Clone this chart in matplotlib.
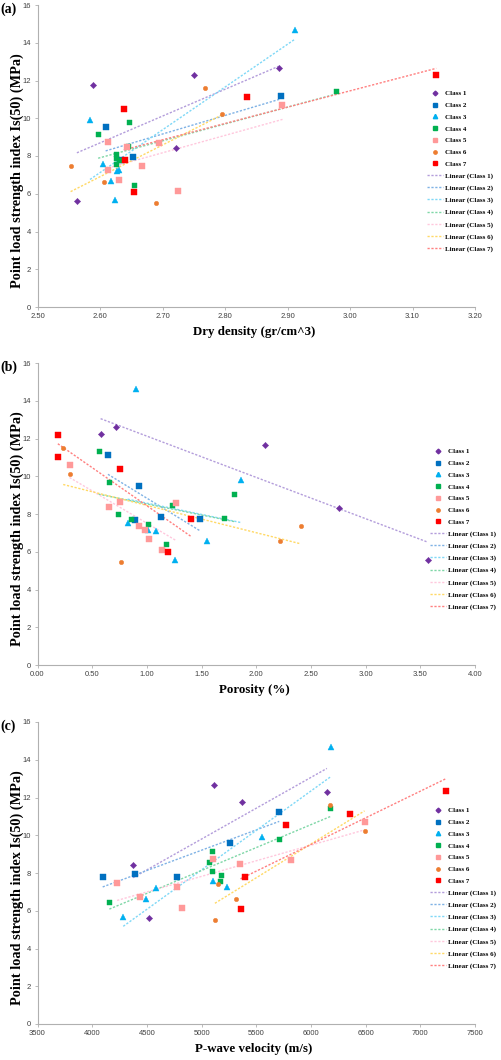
import numpy as np
import matplotlib
matplotlib.use('Agg')
import matplotlib.pyplot as plt
from matplotlib.lines import Line2D

# class names / styles
ClassNames=['Class 1','Class 2','Class 3','Class 4','Class 5','Class 6','Class 7']
MarkColor=['#7030a0','#0070c0','#00b0f0','#00b050','#ff9999','#ed7d31','#ff0000']
LineColor=['#b39ddb','#7fb2e5','#7fd8f7','#7fd7a7','#ffc8dd','#ffd966','#ff8080']
MarkShape=['D','s','^','s','s','o','s']
MarkSize=[3.2,4.6,4.2,3.6,4.0,3.2,3.8]

# (a) dry density (gr/cm^3) vs Is(50)
DD_x=[[2.563,2.588,2.722,2.750,2.886],
      [2.609,2.633,2.653,2.889],
      [2.584,2.605,2.617,2.624,2.627,2.631,2.912],
      [2.597,2.625,2.625,2.625,2.631,2.644,2.647,2.655,2.978],
      [2.613,2.613,2.631,2.643,2.667,2.694,2.724,2.892],
      [2.553,2.606,2.689,2.768,2.795],
      [2.638,2.640,2.654,2.836,3.138]]
DD_y=[[5.60,11.75,8.40,12.30,12.65],
      [9.55,7.80,7.95,11.20],
      [9.90,7.60,6.65,5.65,7.20,7.25,14.65],
      [9.15,8.10,7.90,7.55,7.80,8.55,9.80,6.48,11.45],
      [8.73,7.27,6.74,8.47,7.46,8.69,6.16,10.70],
      [7.45,6.63,5.53,11.60,10.20],
      [10.50,7.80,6.10,11.10,12.30]]

# (b) porosity (%) vs Is(50)
PO_x=[[0.577,0.714,2.078,2.760,3.570],
      [0.644,0.894,0.927,1.126,1.490],
      [0.824,0.900,1.013,1.083,1.254,1.550,1.861],
      [0.558,0.656,0.738,0.851,1.010,1.174,1.227,1.703,1.797],
      [0.293,0.650,0.751,0.925,0.982,1.019,1.141,1.263],
      [0.235,0.299,0.763,2.215,2.407],
      [0.186,0.189,0.751,1.196,1.407]]
PO_y=[[12.25,12.60,11.65,8.30,5.55],
      [11.15,7.70,9.47,7.86,7.72],
      [7.50,14.60,7.15,7.10,5.55,6.55,9.80],
      [11.35,9.70,8.00,7.74,7.46,6.39,8.47,7.81,9.04],
      [10.60,8.35,8.63,7.37,7.16,6.65,6.07,8.60],
      [11.50,10.10,5.45,6.55,7.35],
      [12.20,11.00,10.40,6.00,7.72]]

# (c) P-wave velocity (m/s) vs Is(50)
PW_x=[[4373,4515,5116,5372,6146],
      [4096,4388,4771,5261,5710],
      [4284,4494,4580,5100,5236,5550,6185],
      [4157,5069,5091,5091,5168,5180,5704,6176],
      [4228,4434,4774,4823,5106,5349,5815,6490],
      [5122,5153,5312,6178,6490],
      [5356,5396,5774,6360,7238]]
PW_y=[[8.40,5.60,12.65,11.75,12.30],
      [7.80,7.95,7.80,9.57,11.25],
      [5.65,6.64,7.22,7.60,7.27,9.93,14.65],
      [6.48,8.57,9.15,8.10,7.57,7.88,9.82,11.47],
      [7.48,6.74,7.25,6.16,8.75,8.47,8.71,10.70],
      [5.53,7.44,6.64,11.60,10.23],
      [6.11,7.81,10.54,11.12,12.32]]

Panels=[('(a)',DD_x,DD_y,'Dry density (gr/cm^3)',[2.5,3.2],np.arange(2.5,3.21,0.1),'%.2f'),
        ('(b)',PO_x,PO_y,'Porosity (%)',[0,4],np.arange(0,4.01,0.5),'%.2f'),
        ('(c)',PW_x,PW_y,'P-wave velocity (m/s)',[3500,7500],np.arange(3500,7501,500),'%.0f')]

W,H=501,1060
fig=plt.figure(figsize=(W/100,H/100),dpi=100)
serif=['Liberation Serif','DejaVu Serif']
sans=['Liberation Sans','DejaVu Sans']

AxTop=[5,363,722]      # pixel rows of the 16 line
AxLeft,AxRight=37.5,475
AxH=302
LegX=[0.891,0.898,0.898]

for k,(tag,XX,YY,xlab,xlim,xt,fmt) in enumerate(Panels):
    b=1-(AxTop[k]+AxH)/H
    ax=fig.add_axes([AxLeft/W,b,(AxRight-AxLeft)/W,AxH/H])
    hm=[];hl=[]
    for i in range(7):
        x=np.array(XX[i]);y=np.array(YY[i])
        ax.plot(x,y,linestyle='none',marker=MarkShape[i],ms=MarkSize[i],
                mfc=MarkColor[i],mec=MarkColor[i],mew=0.3,zorder=3)
        # excel style linear trendline between min and max x
        p=np.polyfit(x,y,1)
        xx=np.array([x.min(),x.max()])
        ax.plot(xx,np.polyval(p,xx),linestyle=(0,(1.6,1.2)),color=LineColor[i],lw=1.0,zorder=2)
        hm.append(Line2D([],[],linestyle='none',marker=MarkShape[i],ms=MarkSize[i]*0.75,
                         mfc=MarkColor[i],mec=MarkColor[i]))
        hl.append(Line2D([],[],linestyle=(0,(1.6,1.2)),color=LineColor[i],lw=1.0))
    labs=ClassNames+['Linear ('+c+')' for c in ClassNames]
    ax.legend(hm+hl,labs,loc='center left',bbox_to_anchor=(LegX[k],0.45),frameon=False,
              prop={'family':serif,'size':5,'weight':'bold'},handlelength=2.3,handletextpad=0.3,
              labelspacing=0.85,borderpad=0,borderaxespad=0)
    ax.set_xlim(xlim);ax.set_ylim(0,16)
    ax.set_xticks(xt);ax.set_yticks(np.arange(0,16.1,2))
    ax.set_xticklabels([fmt%v for v in xt],family=sans,fontsize=5.5,color='#404040')
    ax.set_yticklabels(['%d'%v for v in np.arange(0,17,2)],family=sans,fontsize=5.5,color='#404040')
    for s in ['top','right']:
        ax.spines[s].set_visible(False)
    for s in ['left','bottom']:
        ax.spines[s].set_color('#b0b0b0');ax.spines[s].set_linewidth(0.8)
    ax.tick_params(direction='out',length=2.5,width=0.6,color='#b0b0b0',pad=2)
    ax.set_xlabel(xlab,family=serif,fontsize=9.3,fontweight='bold')
    ax.xaxis.set_label_coords(0.495,-0.062)
    ax.set_ylabel('Point load strength index Is(50) (MPa)',family=serif,fontsize=10.3,fontweight='bold')
    ax.yaxis.set_label_coords(-0.03,0.45)
    fig.text(0.0,1-(AxTop[k]+4)/H,tag,family=serif,fontsize=10,fontweight='bold',va='center',ha='left')

fig.savefig('out.png',dpi=100)
